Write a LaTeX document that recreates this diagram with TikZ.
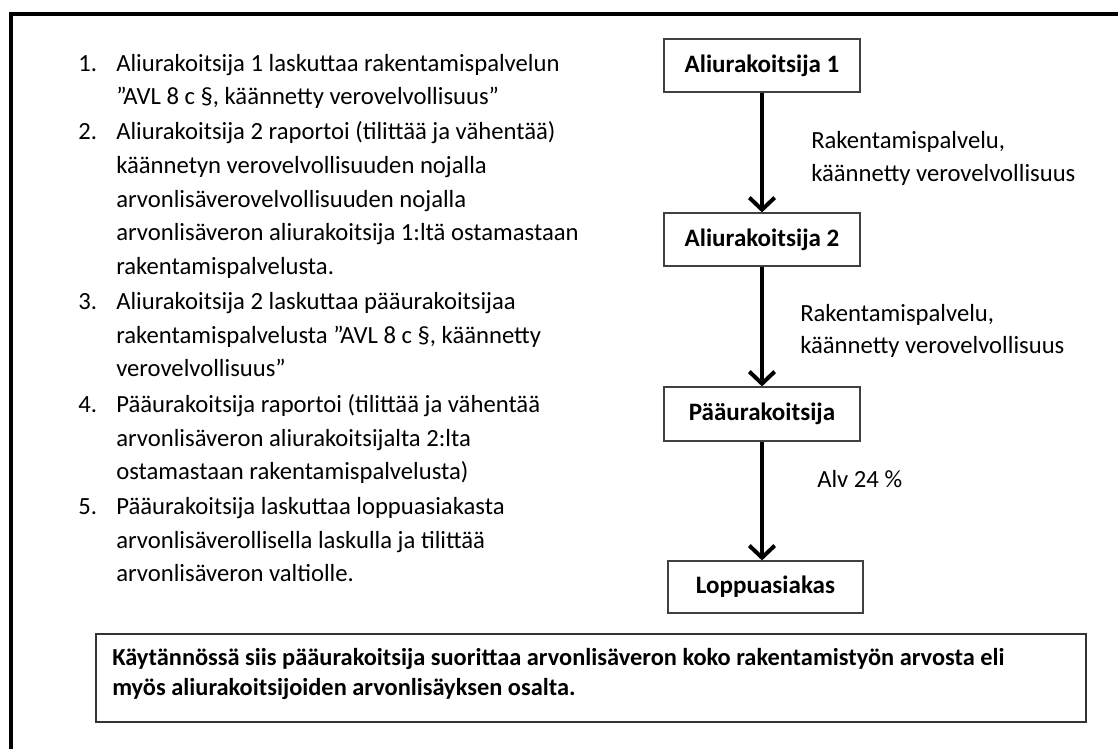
\documentclass[tikz,border=0pt]{standalone}
\usepackage{fontspec}
\setmainfont{Carlito}
\usetikzlibrary{arrows.meta}
\begin{document}
\begin{tikzpicture}[x=0.75pt,y=-0.75pt,
  txt/.style={anchor=base west,inner sep=0pt,font=\fontsize{18.5}{22}\selectfont},
  num/.style={anchor=base west,inner sep=0pt,font=\fontsize{18.5}{22}\selectfont},
  flowbox/.style={draw=black!75,line width=0.9pt,fill=white,inner sep=0pt,font=\fontsize{18.8}{22}\selectfont\bfseries},
  flowarrow/.style={line width=3pt,-{Straight Barb[length=9pt,width=19pt]}},
  lbl/.style={anchor=base west,inner sep=0pt,font=\fontsize{18.5}{22}\selectfont},
  sumtxt/.style={anchor=base west,inner sep=0pt,font=\fontsize{18.3}{22}\selectfont\bfseries}]
\useasboundingbox (0,0) rectangle (1118,749);
\fill[white] (0,0) rectangle (1118,749);
% outer frame
\draw[line width=3.4pt] (11,14) rectangle (1140,770);

% numbered list
\node[num] (n1) at (78,72) {1.};
\node[txt] (l1a) at (116,72) {Aliurakoitsija 1 laskuttaa rakentamispalvelun};
\node[txt] (l1b) at (116,105) {”AVL 8 c §, käännetty verovelvollisuus”};
\node[num] (n2) at (78,140) {2.};
\node[txt] (l2a) at (116,140) {Aliurakoitsija 2 raportoi (tilittää ja vähentää)};
\node[txt] (l2b) at (116,173) {käännetyn verovelvollisuuden nojalla};
\node[txt] (l2c) at (116,207) {arvonlisäverovelvollisuuden nojalla};
\node[txt] (l2d) at (116,240) {arvonlisäveron aliurakoitsija 1:ltä ostamastaan};
\node[txt] (l2e) at (116,274) {rakentamispalvelusta.};
\node[num] (n3) at (78,309) {3.};
\node[txt] (l3a) at (116,309) {Aliurakoitsija 2 laskuttaa pääurakoitsijaa};
\node[txt] (l3b) at (116,343) {rakentamispalvelusta ”AVL 8 c §, käännetty};
\node[txt] (l3c) at (116,376) {verovelvollisuus”};
\node[num] (n4) at (78,412) {4.};
\node[txt] (l4a) at (116,412) {Pääurakoitsija raportoi (tilittää ja vähentää};
\node[txt] (l4b) at (116,446) {arvonlisäveron aliurakoitsijalta 2:lta};
\node[txt] (l4c) at (116,479) {ostamastaan rakentamispalvelusta)};
\node[num] (n5) at (78,514) {5.};
\node[txt] (l5a) at (116,514) {Pääurakoitsija laskuttaa loppuasiakasta};
\node[txt] (l5b) at (116,548) {arvonlisäverollisella laskulla ja tilittää};
\node[txt] (l5c) at (116,581) {arvonlisäveron valtiolle.};

% flow boxes
\node[flowbox,minimum width=196*0.75pt,minimum height=53*0.75pt] (a1) at (762,65.5) {Aliurakoitsija 1};
\node[flowbox,minimum width=196*0.75pt,minimum height=53*0.75pt] (a2) at (762,239.5) {Aliurakoitsija 2};
\node[flowbox,minimum width=196*0.75pt,minimum height=54*0.75pt] (pu) at (762,414) {Pääurakoitsija};
\node[flowbox,minimum width=195*0.75pt,minimum height=52*0.75pt] (la) at (765.5,587) {Loppuasiakas};

\draw[flowarrow] (a1.south) -- (a1.south |- a2.north);
\draw[flowarrow] (a2.south) -- (a2.south |- pu.north);
\draw[flowarrow] (pu.south) -- (pu.south |- la.north);

% arrow labels
\node[lbl] (r1a) at (811,148) {Rakentamispalvelu,};
\node[lbl] (r1b) at (811,181) {käännetty verovelvollisuus};
\node[lbl] (r2a) at (800,321) {Rakentamispalvelu,};
\node[lbl] (r2b) at (800,353) {käännetty verovelvollisuus};
\node[lbl] (alv) at (817,487) {Alv 24 \%};

% summary box
\draw[draw=black!80,line width=0.9pt] (96,634) rectangle (1086,722);
\node[sumtxt] (s1) at (112,665) {Käytännössä siis pääurakoitsija suorittaa arvonlisäveron koko rakentamistyön arvosta eli};
\node[sumtxt] (s2) at (112,695) {myös aliurakoitsijoiden arvonlisäyksen osalta.};
\end{tikzpicture}
\end{document}
